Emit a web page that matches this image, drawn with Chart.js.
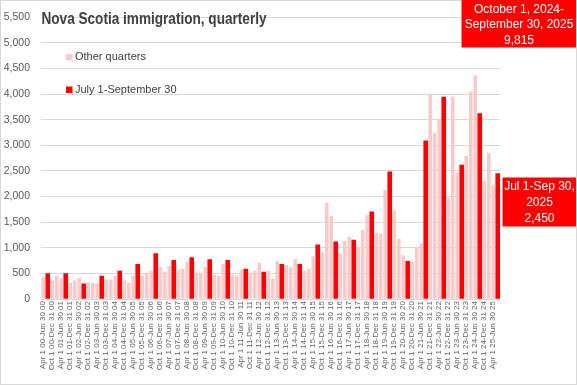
<!DOCTYPE html>
<html>
<head>
<meta charset="utf-8">
<script src="https://cdn.jsdelivr.net/npm/chart.js@4/dist/chart.umd.min.js"></script>
<style>
  html, body { margin: 0; padding: 0; background: #fff; }
  #wrap { width: 577px; height: 385px; position: relative; }
</style>
</head>
<body>
<div id="wrap"><canvas id="myChart" width="577" height="385"></canvas></div>
<script>
// quarters from Apr-Jun 2000 to Jul-Sep 2025
const years = [2000, 2001, 2002, 2003, 2004, 2005, 2006, 2007, 2008, 2009, 2010, 2011, 2012,
  2013, 2014, 2015, 2016, 2017, 2018, 2019, 2020, 2021, 2022, 2023, 2024, 2025];
const quarterNames = [['Jan 1', 'Mar 31'], ['Apr 1', 'Jun 30'], ['Jul 1', 'Sep 30'], ['Oct 1', 'Dec 31']];

// immigrants per quarter, in order
const immigration = [
  411, 494, 354,              // 2000 (Apr-Dec)
  449, 399, 494, 316,         // 2001
  354, 405, 297, 316,         // 2002
  304, 304, 449, 373,         // 2003
  373, 449, 544, 354,         // 2004
  316, 449, 677, 449,         // 2005
  506, 544, 886, 620,         // 2006
  525, 639, 753, 563,         // 2007
  582, 715, 810, 506,         // 2008
  506, 620, 772, 468,         // 2009
  449, 677, 753, 468,         // 2010
  449, 563, 582, 506,         // 2011
  544, 696, 525, 544,         // 2012
  392, 734, 677, 658,         // 2013
  620, 772, 677, 544,         // 2014
  582, 829, 1057, 905,        // 2015
  1873, 1608, 1114, 886,      // 2016
  1133, 1209, 1152, 1000,     // 2017
  1342, 1627, 1703, 1285,     // 2018
  1266, 2120, 2481, 1722,     // 2019
  1171, 848, 734, 715,        // 2020
  1000, 1076, 3089, 4000,     // 2021
  3241, 3506, 3943, 1968,     // 2022
  3943, 2462, 2614, 2785,     // 2023
  4038, 4361, 3620, 2300,     // 2024
  2850, 2215, 2450            // 2025 (Jan-Sep)
];

const yTicks = [0, 500, 1000, 1500, 2000, 2500, 3000, 3500, 4000, 4500, 5000, 5500];

let labels = [];
let quarterIdx = [];
years.forEach(function(y){
  let yy = String(y).slice(2);
  quarterNames.forEach(function(q, qi){
    if (y == 2000 && qi == 0) return;
    if (y == 2025 && qi == 3) return;
    labels.push(`${q[0]} ${yy}-${q[1]} ${yy}`);
    quarterIdx.push(qi);
  });
});

const julySept = immigration.map((v, i) => quarterIdx[i] == 2 ? v : null);
const otherQuarters = immigration.map((v, i) => quarterIdx[i] == 2 ? null : v);

const PINK = '#F8CBCB';
const RED = '#FF0000';

const extras = {
  id: 'extras',
  afterDraw(chart){
    const c = chart.ctx;
    c.save();
    // border
    c.strokeStyle = '#D9D9D9';
    c.lineWidth = 1;
    c.strokeRect(0.5, 0.5, 576, 384);

    // title
    c.fillStyle = '#404040';
    c.font = 'bold 16px "Liberation Sans"';
    c.textBaseline = 'alphabetic';
    c.textAlign = 'left';
    const t = 'Nova Scotia immigration, quarterly';
    const w = c.measureText(t).width;
    c.save();
    c.translate(41.5, 23.5);
    c.scale(225 / w, 1);
    c.fillText(t, 0, 0);
    c.restore();

    // legend
    c.font = '11px "Liberation Sans"';
    c.textBaseline = 'middle';
    c.fillStyle = PINK;
    c.fillRect(66, 54, 6.5, 6.5);
    c.fillStyle = '#404040';
    c.fillText('Other quarters', 75, 57);
    c.fillStyle = RED;
    c.fillRect(66, 86.5, 6.5, 6.5);
    c.fillStyle = '#404040';
    c.fillText('July 1-September 30', 75, 89.5);

    // annotation boxes
    c.fillStyle = RED;
    c.fillRect(461.5, 0, 114.5, 47.5);
    c.fillRect(502.5, 177.5, 73.5, 49);
    c.fillStyle = '#FFFFFF';
    c.font = '12px "Liberation Sans"';
    c.textAlign = 'center';
    c.fillText('October 1, 2024-', 519, 9.5);
    c.fillText('September 30, 2025', 519, 25);
    c.fillText('9,815', 519, 40.5);
    c.fillText('Jul 1-Sep 30,', 539.5, 187);
    c.fillText('2025', 539.5, 203);
    c.fillText('2,450', 539.5, 219);
    c.restore();
  }
};

let ctx = document.getElementById('myChart');
let myChart = new Chart(ctx, {
  type: 'bar',
  data: {
    labels: labels,
    datasets: [{
      label: 'Other quarters',
      data: otherQuarters,
      backgroundColor: PINK,
      barThickness: 3,
      grouped: false
    }, {
      label: 'July 1-September 30',
      data: julySept,
      backgroundColor: RED,
      barThickness: 4,
      grouped: false
    }]
  },
  options: {
    responsive: false,
    animation: false,
    devicePixelRatio: 1,
    layout: {
      padding: { left: 0, right: 77, top: 7.5, bottom: 0 }
    },
    plugins: {
      legend: { display: false },
      title: { display: false },
      tooltip: { enabled: false }
    },
    scales: {
      x: {
        grid: { display: false, drawTicks: false },
        border: { display: false },
        ticks: {
          autoSkip: false,
          minRotation: 90,
          maxRotation: 90,
          padding: 2,
          color: '#666666',
          font: { family: '"Liberation Sans"', size: 8 },
          callback: function(val, idx){
            return idx % 2 == 0 ? this.getLabelForValue(val) : '';
          }
        },
        afterFit: function(scale){ scale.height = 86; }
      },
      y: {
        min: 0,
        max: 5500,
        afterBuildTicks: function(scale){
          scale.ticks = yTicks.map(v => ({ value: v }));
        },
        grid: { color: '#D9D9D9', lineWidth: 1, drawTicks: false },
        border: { display: false },
        ticks: {
          padding: 11,
          color: '#595959',
          font: { family: '"Liberation Sans"', size: 10.5 }
        },
        afterFit: function(scale){ scale.width = 41; }
      }
    }
  },
  plugins: [extras]
});
</script>
</body>
</html>
